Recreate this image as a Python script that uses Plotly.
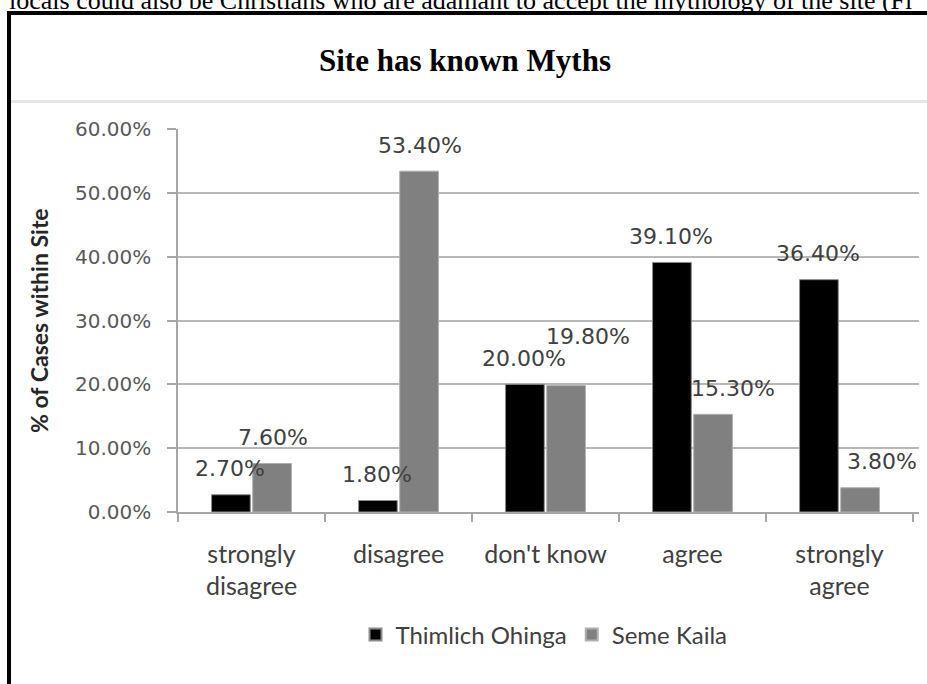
import plotly.graph_objects as go

# ---- data -----------------------------------------------------------------
categories = ["strongly disagree", "disagree", "don't know", "agree", "strongly agree"]
category_labels = ["strongly<br>disagree", "disagree", "don't know", "agree", "strongly<br>agree"]
series_names = ["Thimlich Ohinga", "Seme Kaila"]
thimlich_ohinga = [2.7, 1.8, 20.0, 39.1, 36.4]
seme_kaila = [7.6, 53.4, 19.8, 15.3, 3.8]
y_ticks = [0, 10, 20, 30, 40, 50, 60]
y_tick_text = [f"{v:.2f}%" for v in y_ticks]

# label nudges (pixels) for the Seme Kaila value labels that sit off-centre
seme_dx = [0, 0, 21, 19, 21]
seme_dy = [0, 0, 23, 0, 0]

# ---- page geometry ----------------------------------------------------------
W, H = 927, 684
ML, MR, MT, MB = 178, 8, 129, 172
PW, PH = W - ML - MR, H - MT - MB


def px_x(x):
    return (x - ML) / PW


def px_y(y):
    return (H - MB - y) / PH


BAR_OFF = 21.5  # half distance between the two bars of a group

fig = go.Figure()
fig.add_bar(x=categories, y=thimlich_ohinga, name=series_names[0],
            marker=dict(color="#000000", line=dict(color="#8c8c8c", width=1)))
fig.add_bar(x=categories, y=seme_kaila, name=series_names[1],
            marker=dict(color="#808080", line=dict(color="#b0b0b0", width=1)))

annotations = []
label_font = dict(family="DejaVu Sans", size=22, color="#404040")
for i, cat in enumerate(categories):
    annotations.append(dict(x=cat, y=thimlich_ohinga[i], xref="x", yref="y",
                            text=f"{thimlich_ohinga[i]:.2f}%", showarrow=False,
                            xshift=-BAR_OFF, yshift=26, yanchor="middle",
                            font=label_font))
    annotations.append(dict(x=cat, y=seme_kaila[i], xref="x", yref="y",
                            text=f"{seme_kaila[i]:.2f}%", showarrow=False,
                            xshift=BAR_OFF + seme_dx[i], yshift=26 + seme_dy[i],
                            yanchor="middle", font=label_font))

# running text of the page above the chart frame
annotations.append(dict(xref="paper", yref="paper", x=px_x(7), y=px_y(0),
                        xanchor="left", yanchor="middle", showarrow=False,
                        text="locals could also be Christians who are adamant to accept the mythology of the site (Fi",
                        font=dict(family="Liberation Serif", size=26, color="#000000")))
# chart title
annotations.append(dict(xref="paper", yref="paper", x=px_x(465), y=px_y(60),
                        xanchor="center", yanchor="middle", showarrow=False,
                        text="<b>Site has known Myths</b>",
                        font=dict(family="Liberation Serif", size=31, color="#000000")))
# y-axis title
annotations.append(dict(xref="paper", yref="paper", x=px_x(39), y=px_y(321),
                        xanchor="center", yanchor="middle", showarrow=False,
                        textangle=-90, text="<b>% of Cases within Site</b>",
                        font=dict(family="Lato", size=23, color="#262626")))

shapes = [
    # frame
    dict(type="line", xref="paper", yref="paper", x0=px_x(9), x1=px_x(940),
         y0=px_y(13), y1=px_y(13), line=dict(color="#000000", width=4)),
    dict(type="line", xref="paper", yref="paper", x0=px_x(9), x1=px_x(9),
         y0=px_y(11), y1=px_y(700), line=dict(color="#000000", width=4)),
    # rule under the title
    dict(type="line", xref="paper", yref="paper", x0=px_x(11), x1=px_x(940),
         y0=px_y(101.5), y1=px_y(101.5), line=dict(color="#e6e6e6", width=3)),
]

fig.update_layout(
    width=W, height=H,
    margin=dict(l=ML, r=MR, t=MT, b=MB, pad=0),
    paper_bgcolor="#ffffff", plot_bgcolor="#ffffff",
    barmode="group", bargap=0.44, bargroupgap=0.06,
    showlegend=True,
    legend=dict(orientation="h", xref="paper", yref="paper",
                x=px_x(544), y=px_y(635), xanchor="center", yanchor="middle",
                font=dict(family="Lato", size=24, color="#404040"),
                itemsizing="constant", traceorder="normal"),
    annotations=annotations,
    shapes=shapes,
)

fig.update_xaxes(
    type="category", tickmode="array", tickvals=categories, ticktext=category_labels,
    tickson="boundaries", ticks="outside", ticklen=8, tickcolor="#a6a6a6", tickwidth=1.5,
    showline=True, linecolor="#a6a6a6", linewidth=1.5, showgrid=False,
    tickfont=dict(family="Lato", size=25, color="#404040"),
    ticklabelstandoff=19, automargin=False,
)
fig.update_yaxes(
    range=[0, 60], tickmode="array", tickvals=y_ticks, ticktext=y_tick_text,
    ticks="outside", ticklen=9, tickcolor="#a6a6a6", tickwidth=1.5,
    showline=True, linecolor="#a6a6a6", linewidth=1.5,
    showgrid=True, gridcolor="#b8b8b8", gridwidth=1.5, zeroline=False,
    tickfont=dict(family="DejaVu Sans", size=20, color="#595959"),
    ticklabelstandoff=12, automargin=False,
)

fig.write_html("out.html")
